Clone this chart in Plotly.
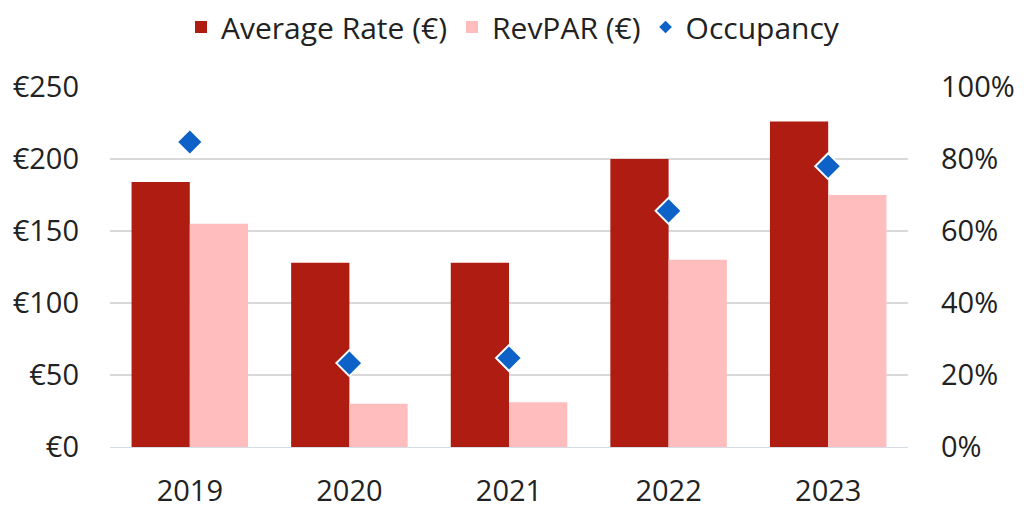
import plotly.graph_objects as go

years = ["2019", "2020", "2021", "2022", "2023"]
average_rate = [184, 128, 128, 200, 226]
revpar = [155, 30, 31, 130, 175]
occupancy = [0.847, 0.233, 0.247, 0.656, 0.78]

font_family = "Open Sans, Noto Sans, sans-serif"
fs = 29

fig = go.Figure()
fig.add_trace(go.Bar(x=years, y=average_rate, name="Average Rate (€)",
                     marker=dict(color="#AE1C12", line=dict(width=0))))
fig.add_trace(go.Bar(x=years, y=revpar, name="RevPAR (€)",
                     marker=dict(color="#FFBDBD", line=dict(width=0))))
fig.add_trace(go.Scatter(x=years, y=occupancy, name="Occupancy", yaxis="y2",
                         mode="markers",
                         marker=dict(symbol="diamond", size=20, color="#0E62C7",
                                     line=dict(color="white", width=2))))

fig.update_layout(
    width=1024, height=513,
    margin=dict(l=102, r=124, t=79, b=74),
    paper_bgcolor="white", plot_bgcolor="white",
    font=dict(family=font_family, size=fs, color="#222222"),
    barmode="group", bargap=0.27, bargroupgap=0,
    showlegend=True,
    legend=dict(orientation="h", x=0.505, xanchor="center", y=0.963, yanchor="middle",
                yref="container", font=dict(size=30), itemsizing="constant",
                traceorder="normal"),
    xaxis=dict(showgrid=False, showline=True, linecolor="#D6DCE4", linewidth=1,
               ticks="", tickfont=dict(size=fs), ticklabelstandoff=18,
               automargin=False),
    yaxis=dict(range=[0, 250], tickvals=[0, 50, 100, 150, 200, 250],
               ticktext=["€0", "€50", "€100", "€150", "€200", "€250"],
               showgrid=True, gridcolor="#D9D9D9", gridwidth=1.5,
               zeroline=False, showline=False, ticks="",
               tickfont=dict(size=fs), ticklabelstandoff=30, automargin=False),
    yaxis2=dict(range=[0, 1], overlaying="y", side="right",
                tickvals=[0, 0.2, 0.4, 0.6, 0.8, 1.0],
                ticktext=["0%", "20%", "40%", "60%", "80%", "100%"],
                showgrid=False, zeroline=False, showline=False, ticks="",
                tickfont=dict(size=fs), ticklabelstandoff=32, automargin=False),
)

fig.write_html("out.html")
